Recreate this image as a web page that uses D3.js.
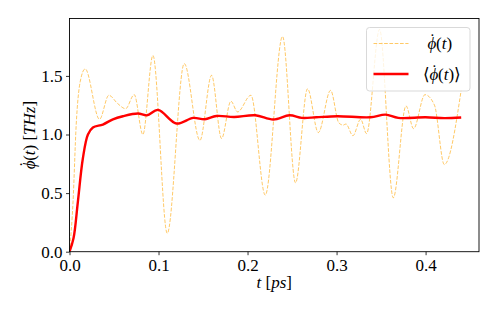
<!DOCTYPE html>
<html>
<head>
<meta charset="utf-8">
<script src="https://cdn.jsdelivr.net/npm/d3@7"></script>
<style>
  body { margin: 0; background: #fff; }
</style>
</head>
<body>
<svg id="chart" width="498" height="312"></svg>
<script>
// instantaneous frequency
const phiT = [0, 0.004, 0.0075, 0.012, 0.0176, 0.0337, 0.0442, 0.054, 0.063, 0.0727, 0.0824,
  0.0937, 0.1098, 0.1289, 0.1465, 0.1596, 0.1708, 0.1813, 0.1888, 0.2038, 0.2199, 0.2393,
  0.2539, 0.2674, 0.2795, 0.2933, 0.3025, 0.3075, 0.3105, 0.3184, 0.327, 0.3337, 0.3483,
  0.3637, 0.378, 0.3865, 0.3993, 0.41, 0.421, 0.44];
const phiV = [0, 0.43, 1.08, 1.45, 1.56, 1.13, 1.335, 1.265, 1.22, 1.34, 1.0,
  1.675, 0.157, 1.605, 0.95, 1.505, 0.966, 1.284, 1.193, 1.335, 0.483, 1.837,
  0.588, 1.39, 1.017, 1.377, 1.1, 1.08, 1.09, 0.99, 1.13, 1.008, 1.897,
  0.46, 1.244, 1.05, 1.34, 1.25, 0.744, 1.38];

// running mean
const meanT = [0, 0.0045, 0.0094, 0.015, 0.0207, 0.0263, 0.0375, 0.0488, 0.06, 0.0769, 0.087,
  0.0995, 0.12, 0.139, 0.152, 0.165, 0.185, 0.2087, 0.229, 0.2472, 0.261, 0.277, 0.3008,
  0.338, 0.355, 0.3693, 0.40, 0.421, 0.44];
const meanV = [0, 0.114, 0.426, 0.795, 1.0, 1.06, 1.085, 1.13, 1.156, 1.179, 1.164,
  1.21, 1.094, 1.142, 1.13, 1.158, 1.15, 1.164, 1.128, 1.164, 1.142, 1.147, 1.156,
  1.147, 1.17, 1.142, 1.147, 1.14, 1.145];

const xTicks = [0, 0.1, 0.2, 0.3, 0.4];
const yTicks = [0, 0.5, 1.0, 1.5];

const serif = 'Liberation Serif';
const fontSize = '17px';
const margin = { top: 18.5, right: 19, bottom: 60.3, left: 69.5 };
const svg = d3.select('#chart');
const width = 498 - margin.left - margin.right;
const height = 312 - margin.top - margin.bottom;

const x = d3.scaleLinear().domain([0, 0.46]).range([0, width]);
const y = d3.scaleLinear().domain([0, 1.99]).range([height, 0]);

const g = svg.append('g')
  .attr('transform', 'translate(' + margin.left + ',' + margin.top + ')');

g.append('defs').append('clipPath').attr('id', 'clip')
  .append('rect').attr('width', width).attr('height', height);

// axes
const xAxis = g.append('g')
  .attr('transform', 'translate(0,' + height + ')')
  .call(d3.axisBottom(x).tickValues(xTicks).tickFormat(d3.format('.1f')).tickSize(3.5).tickPadding(3.5).tickSizeOuter(0));
const yAxis = g.append('g')
  .call(d3.axisLeft(y).tickValues(yTicks).tickFormat(d3.format('.1f')).tickSize(3.5).tickPadding(3.5).tickSizeOuter(0));

[xAxis, yAxis].forEach(a => {
  a.attr('font-family', null).attr('font-size', null);
  a.select('.domain').remove();
  a.selectAll('.tick line').attr('stroke', '#000').attr('stroke-width', 0.8);
  a.selectAll('.tick text')
    .attr('fill', '#000')
    .style('font-family', serif)
    .style('font-size', fontSize);
});

// lines
const pts = (ts, vs) => ts.map((t, i) => [t, vs[i]]);

const plot = g.append('g').attr('clip-path', 'url(#clip)');

plot.append('path')
  .datum(pts(phiT, phiV))
  .attr('fill', 'none')
  .attr('stroke', '#ffa500')
  .attr('stroke-opacity', 0.6)
  .attr('stroke-width', 1)
  .attr('stroke-dasharray', '3.7,1.6')
  .attr('d', d3.line().x(d => x(d[0])).y(d => y(d[1])).curve(d3.curveMonotoneX));

plot.append('path')
  .datum(pts(meanT, meanV))
  .attr('fill', 'none')
  .attr('stroke', '#ff0000')
  .attr('stroke-width', 2.4)
  .attr('d', d3.line().x(d => x(d[0])).y(d => y(d[1])).curve(d3.curveCatmullRom.alpha(0.5)));

// frame
g.append('rect')
  .attr('width', width).attr('height', height)
  .attr('fill', 'none').attr('stroke', '#000').attr('stroke-width', 0.9);

// phi with a dot on top, then (t)
function phiDot(t) {
  t.append('tspan').style('font-style', 'italic').text('\u03d5');
  t.append('tspan').attr('dx', -6.8).attr('dy', -4).text('\u02d9');
  t.append('tspan').attr('dx', 0.8).attr('dy', 4).text('(');
  t.append('tspan').style('font-style', 'italic').text('t');
  t.append('tspan').text(')');
}

function label(sel) {
  return sel.style('font-family', serif).style('font-size', fontSize);
}

// axis labels
const xl = label(svg.append('text')
  .attr('x', margin.left + width / 2).attr('y', 288)
  .attr('text-anchor', 'middle'));
xl.append('tspan').style('font-style', 'italic').text('t');
xl.append('tspan').text(' [');
xl.append('tspan').style('font-style', 'italic').text('ps');
xl.append('tspan').text(']');

const yl = label(svg.append('text')
  .attr('transform', 'translate(35,' + (margin.top + height / 2) + ') rotate(-90)')
  .attr('text-anchor', 'middle'));
phiDot(yl);
yl.append('tspan').text(' [');
yl.append('tspan').style('font-style', 'italic').text('THz');
yl.append('tspan').text(']');

// legend
const legend = svg.append('g').attr('transform', 'translate(366.5,27.5)');
legend.append('rect')
  .attr('width', 103.5).attr('height', 63.5).attr('rx', 3)
  .attr('fill', '#fff').attr('fill-opacity', 0.8)
  .attr('stroke', '#d9d9d9').attr('stroke-width', 1);

const entries = [
  { angle: false, color: '#ffa500', opacity: 0.6, w: 1, dash: '3.7,1.6' },
  { angle: true, color: '#ff0000', opacity: 1, w: 2.4, dash: null }
];
entries.forEach((e, i) => {
  const ly = 16 + i * 30.5;
  legend.append('line')
    .attr('x1', 7).attr('x2', 42).attr('y1', ly).attr('y2', ly)
    .attr('stroke', e.color).attr('stroke-opacity', e.opacity)
    .attr('stroke-width', e.w).attr('stroke-dasharray', e.dash);
  const t = label(legend.append('text').attr('x', e.angle ? 56 : 61).attr('y', ly + 5.5));
  if (e.angle) t.append('tspan').text('\u27e8');
  phiDot(t);
  if (e.angle) t.append('tspan').text('\u27e9');
});
</script>
</body>
</html>
